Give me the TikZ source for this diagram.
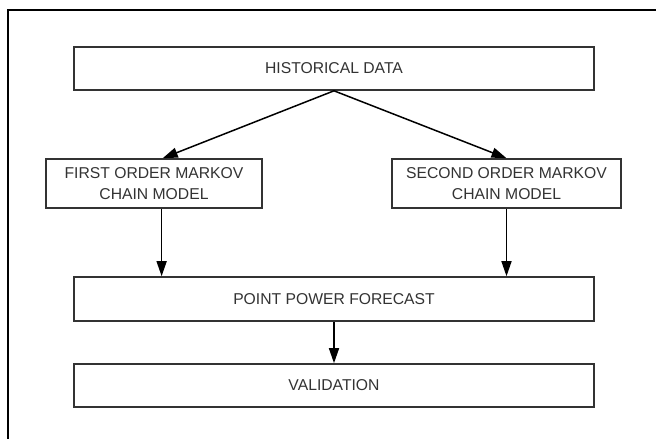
\documentclass[tikz,border=0pt]{standalone}
\usepackage{fontspec}
\setmainfont{Liberation Sans}
\usetikzlibrary{arrows.meta,calc}

\tikzset{
  x=1pt, y=-1pt,
  stepbox/.style={draw=black!80, line width=1.6pt, fill=white, inner sep=0pt,
    text=black!80, font=\fontsize{15.7}{21}\selectfont, align=center},
  arr/.style={draw=black, line width=1.5pt, -{Triangle[length=15pt,width=10pt]}},
  frameline/.style={draw=black, line width=1.8pt}
}

\begin{document}
\begin{tikzpicture}
  \useasboundingbox (0,0) rectangle (656,439);

  % open frame: top and left edges only
  \draw[frameline] (8,439) -- (8,10) -- (656,10);

  % boxes
  \node[stepbox, minimum width=520pt, minimum height=43pt] (hist) at (334,68.5) {HISTORICAL DATA};
  \node[stepbox, minimum width=216pt, minimum height=49pt] (first) at (154,183.5) {FIRST ORDER MARKOV\\CHAIN MODEL};
  \node[stepbox, minimum width=229pt, minimum height=49pt] (second) at (506.5,183.5) {SECOND ORDER MARKOV\\CHAIN MODEL};
  \node[stepbox, minimum width=520pt, minimum height=44pt] (ppf) at (334,299) {POINT POWER FORECAST};
  \node[stepbox, minimum width=520pt, minimum height=43pt] (val) at (334,385.5) {VALIDATION};

  % connectors
  \coordinate (fin) at ($(first.north west)!0.54!(first.north east)$);
  \coordinate (fout) at ($(first.south west)!0.535!(first.south east)$);
  \draw[arr] (hist.south) -- (fin);
  \draw[arr] (hist.south) -- (second.north);
  \draw[arr] (fout) -- (fout |- ppf.north);
  \draw[arr] (second.south) -- (second.south |- ppf.north);
  \draw[arr] (ppf.south) -- (val.north);
\end{tikzpicture}
\end{document}
